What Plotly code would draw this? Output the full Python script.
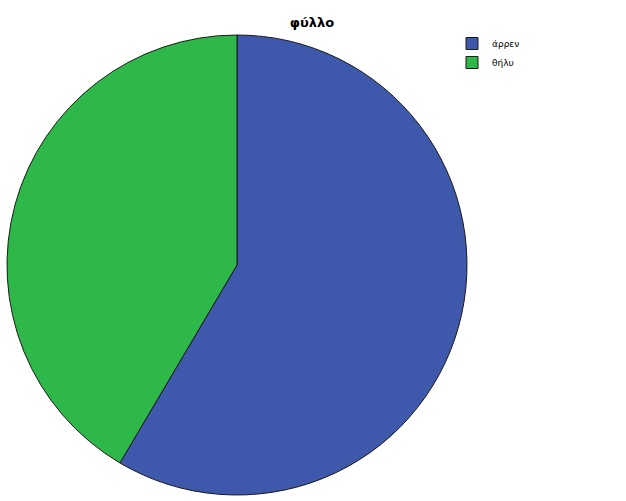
import plotly.graph_objects as go

labels = ["άρρεν", "θήλυ"]
values = [58.5, 41.5]
colors = ["#3e58ac", "#2eb84a"]

W, H = 626, 501

fig = go.Figure()
fig.add_trace(go.Pie(
    labels=labels,
    values=values,
    sort=False,
    direction="clockwise",
    rotation=0,
    textinfo="none",
    hoverinfo="label+percent",
    marker=dict(colors=colors, line=dict(color="#1a1a1a", width=1)),
    domain=dict(x=[7 / W, 467 / W], y=[1 - 495 / H, 1 - 35 / H]),
))

fig.update_layout(
    width=W, height=H,
    margin=dict(l=0, r=0, t=0, b=0),
    paper_bgcolor="white",
    plot_bgcolor="white",
    title=dict(text="<b>φύλλο</b>", x=312 / W, xanchor="center",
               y=1 - 22 / H, yanchor="middle",
               font=dict(family="DejaVu Sans", size=13, color="black")),
    legend=dict(x=452 / W, y=1 - 29 / H, xanchor="left", yanchor="top",
                font=dict(family="DejaVu Sans", size=9, color="black"),
                itemwidth=30, tracegroupgap=0,
                bgcolor="rgba(0,0,0,0)"),
    font=dict(family="DejaVu Sans"),
)

# drop the default page margin so the figure sits at the window corner
fig.write_html("out.html", config={"displayModeBar": False},
               post_script="document.body.style.margin='0px';")
